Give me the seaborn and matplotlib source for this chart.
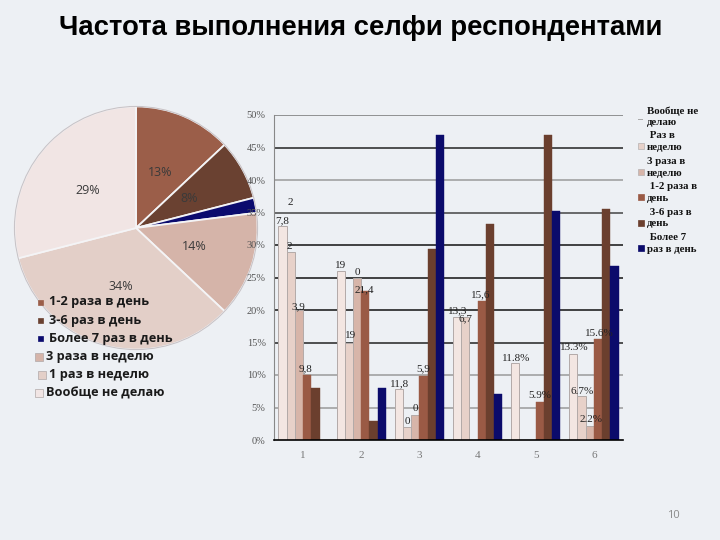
import matplotlib
matplotlib.use("Agg")
import matplotlib.pyplot as plt
from matplotlib.patches import Rectangle
import seaborn as sns
import pandas as pd
import numpy as np

# ---------------- data ----------------
title = "Частота выполнения селфи респондентами"

pie_labels = ["1-2 раза в день", "3-6 раз в день", "Более 7 раз в день",
              "3 раза в неделю", "1 раз в неделю", "Вообще не делаю"]
pie_values = [13, 8, 2, 14, 34, 29]
pie_colors = ["#9b5e49", "#6a4131", "#0b0b6e", "#d5b4a9", "#e3cfc8", "#f1e5e4"]

groups = ["1", "2", "3", "4", "5", "6"]
series = ["Вообще не делаю", "Раз в неделю", "3 раза в неделю",
          "1-2 раза в день", "3-6 раз в день", "Более 7 раз в день"]
legend_texts = ["Вообще не\nделаю", " Раз в\nнеделю", "3 раза в\nнеделю",
                " 1-2 раза в\nдень", " 3-6 раз в\nдень", " Более 7\nраз в день"]
v_none = [33, 26, 7.8, 19, 11.8, 13.3]
v_week1 = [29, 15, 2, 19, 0, 6.7]
v_week3 = [20, 25, 3.9, 0, 0, 2.2]
v_day12 = [10, 23, 9.8, 21.4, 5.9, 15.6]
v_day36 = [8, 3, 29.4, 33.3, 47, 35.6]
v_day7 = [0, 8, 47, 7.1, 35.3, 26.7]
bar_colors = ["#f3e6e2", "#e7d1c9", "#d7b5a9", "#9a5a45", "#6b3f2e", "#0b0b6b"]

# stray value annotations as they appear on the chart (text, x, y in data units)
annot_texts = ["2", "7,8", "2", "3,9", "9,8",
               "19", "0", "21,4", "19",
               "11,8", "0", "0", "5,9",
               "13,3", "6,7", "15,6",
               "11.8%", "5.9%",
               "13.3%", "15.6%", "6.7%", "2.2%"]
annot_x = [-0.22, -0.36, -0.24, -0.08, 0.05,
           0.65, 0.93, 1.05, 0.81,
           1.66, 1.80, 1.93, 2.06,
           2.66, 2.79, 3.05,
           3.66, 4.07,
           4.66, 5.09, 4.80, 4.95]
annot_y = [36.5, 33.8, 29.7, 20.5, 10.9,
           26.9, 25.8, 23.1, 16.0,
           8.7, 2.8, 4.9, 10.9,
           19.9, 18.7, 22.3,
           12.6, 6.8,
           14.3, 16.4, 7.5, 3.1]

values = [v_none, v_week1, v_week3, v_day12, v_day36, v_day7]
df = pd.DataFrame([(g, s, v) for s, vals in zip(series, values)
                   for g, v in zip(groups, vals)],
                  columns=["group", "series", "value"])

# ---------------- style ----------------
sns.set_style("white")
BG = "#edf0f4"
plt.rcParams["font.family"] = ["Open Sans", "DejaVu Sans"]

W, H = 720, 540
fig = plt.figure(figsize=(7.2, 5.4), dpi=100, facecolor=BG)

# ---------------- pie chart (drawn underneath the bar axes) ----------------
cx, cy, r = 136, 228, 124
pax = fig.add_axes([(cx - r) / W, 1 - (cy + r) / H, 2 * r / W, 2 * r / H], zorder=1)
pax.set_facecolor("none")
wedges, texts, autotexts = pax.pie(
    pie_values, colors=pie_colors, startangle=90, counterclock=False,
    autopct=lambda p: f"{p:.0f}%" if p > 3 else "", pctdistance=0.5,
    wedgeprops=dict(edgecolor="#f4f4f6", linewidth=1.3))
for w in wedges:
    w.set_path_effects([])
for t in autotexts:
    t.set_fontsize(9)
    t.set_color("#3a3a3a")
pax.add_patch(plt.Circle((0, 0), 1.0, fill=False, edgecolor="#c8c4c8", lw=0.8))
pax.set_xlim(-1.02, 1.02)
pax.set_ylim(-1.02, 1.02)
pax.set_aspect("equal")
pax.axis("off")

# ---------------- bar chart ----------------
ax = fig.add_axes([274 / W, 1 - 440 / H, (623 - 274) / W, (440 - 115) / H], zorder=2)
ax.set_facecolor("none")
sns.barplot(data=df, x="group", y="value", hue="series", order=groups,
            hue_order=series, palette=bar_colors, saturation=1, width=0.85,
            legend=False, ax=ax, zorder=2)
for i, cont in enumerate(ax.containers):
    for bar in cont:
        if bar.get_height() == 0:
            bar.set_linewidth(0)
        elif i < 3:
            bar.set_edgecolor("#b3aaa8")
            bar.set_linewidth(0.7)
        else:
            bar.set_edgecolor(bar_colors[i])
            bar.set_linewidth(0.3)

yt = list(range(0, 51, 5))
grid_cols = ["#000000", "#9a9a9a", "#9a9a9a", "#222222", "#111111", "#111111",
             "#111111", "#444444", "#9a9a9a", "#222222", "#777777"]
for v, c in zip(yt[1:], grid_cols[1:]):
    ax.axhline(v, color=c, lw=1.1, zorder=0.5)

ax.set_ylim(0, 50)
ax.set_xlim(-0.5, 5.5)
ax.set_yticks(yt)
ax.set_yticklabels([f"{v}%" for v in yt], family="Liberation Serif",
                   fontsize=7.5, color="#555555")
ax.set_xticks(range(len(groups)))
ax.set_xticklabels(groups, family="Liberation Serif", fontsize=8, color="#777777")
ax.set_xticks(np.arange(-0.5, 6, 1), minor=True)
ax.tick_params(axis="x", which="major", length=0, pad=8)
ax.tick_params(axis="x", which="minor", length=5, color="#000000", width=1)
ax.tick_params(axis="y", length=4, color="#888888", pad=2)
ax.set_xlabel("")
ax.set_ylabel("")
for s in ["top", "right"]:
    ax.spines[s].set_visible(False)
ax.spines["left"].set_color("#888888")
ax.spines["bottom"].set_color("#000000")
ax.spines["bottom"].set_linewidth(1.2)

for t, x, y in zip(annot_texts, annot_x, annot_y):
    ax.text(x, y, t, ha="center", va="center", family="Liberation Serif",
            fontsize=8, color="#222222", zorder=5)

# right legend
leg_y0 = 1 - 106 / H
line_h = 12.7 / H
for i, (txt, col) in enumerate(zip(legend_texts, bar_colors)):
    ty = leg_y0 - 2 * i * line_h
    fig.text(647 / W, ty, txt, ha="left", va="top", family="Liberation Serif",
             fontweight="bold", fontsize=7.8, color="#111111", linespacing=1.4)
    if i == 0:
        fig.add_artist(Rectangle((638 / W, ty - 14 / H), 5 / W, 1 / H,
                                 transform=fig.transFigure, facecolor="#aaaaaa",
                                 edgecolor="none"))
    else:
        fig.add_artist(Rectangle((638 / W, ty - 18 / H), 6 / W, 6 / H,
                                 transform=fig.transFigure, facecolor=col,
                                 edgecolor="#b5b0b0" if i < 3 else col, lw=0.5))

# pie legend (overlapping the pie)
pl_x = [49, 49, 49, 46, 49, 46]
pl_y0 = 302
pl_step = 18.2
for i, (lab, col) in enumerate(zip(pie_labels, pie_colors)):
    y = pl_y0 + i * pl_step
    fig.text(pl_x[i] / W, 1 - y / H, lab, ha="left", va="center",
             fontsize=9.2, fontweight="bold", color="#1a1a1a", zorder=10)
    sz = 5 if i < 3 else 8
    mx = 38 if i < 3 else (pl_x[i] - 11)
    fig.add_artist(Rectangle((mx / W, 1 - (y + sz / 2) / H), sz / W, sz / H,
                             transform=fig.transFigure, facecolor=col,
                             edgecolor="#b0a8a8" if i >= 3 else col, lw=0.5,
                             zorder=10))

# ---------------- title & page number ----------------
fig.text(361 / W, 1 - 28 / H, title, ha="center", va="center",
         family=["Liberation Sans", "DejaVu Sans"], fontweight="bold",
         fontsize=19.8, color="#000000")
fig.text(673 / W, 1 - 515 / H, "10", ha="center", va="center",
         fontsize=8, color="#8a8a8a")

fig.savefig("out.png", dpi=100, facecolor=BG)
